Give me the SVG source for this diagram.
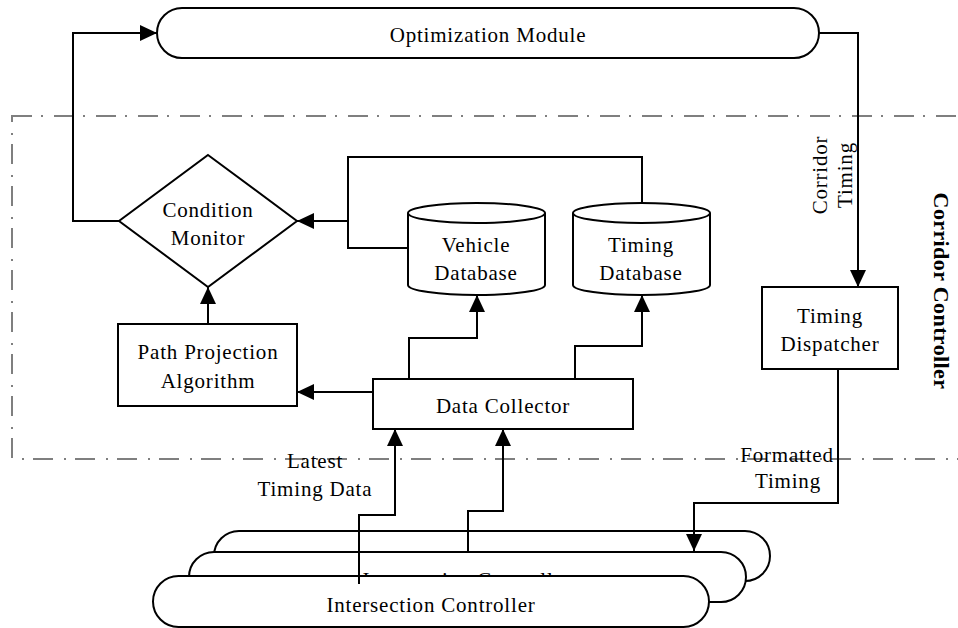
<svg xmlns="http://www.w3.org/2000/svg" width="958" height="628" viewBox="0 0 958 628">
<style>
.s{fill:#fff;stroke:#000;stroke-width:2}
.t{font-family:"Liberation Serif","Times New Roman",serif;font-size:21px;letter-spacing:0.8px;fill:#000;text-anchor:middle}
.c{fill:none;stroke:#000;stroke-width:2}
.b{fill:none;stroke:#7f7f7f;stroke-width:2;stroke-dasharray:20 9 2 11}
</style>
<defs>
<marker id="a" markerUnits="userSpaceOnUse" viewBox="0 0 17 16" refX="17" refY="8" markerWidth="17" markerHeight="16" orient="auto">
<path d="M0,0 L17,8 L0,16 z" fill="#000"/>
</marker>
</defs>
<rect class="b" x="12" y="116" width="962" height="343"/>
<g id="optimization">
<rect class="s" x="157" y="8" width="662" height="50" rx="25" ry="25"/>
<text class="t" x="488" y="42">Optimization Module</text>
</g>
<g id="condition">
<polygon class="s" points="208,155 297,221 208,287 119,221"/>
<text class="t" x="208" y="217">Condition</text>
<text class="t" x="208" y="245">Monitor</text>
</g>
<g id="vehicledb">
<path class="s" d="M408,213 A68.5,10 0 0 1 545,213 L545,285 A68.5,10 0 0 1 408,285 Z"/>
<path class="c" d="M408,213 A68.5,10 0 0 0 545,213"/>
<text class="t" x="476" y="252">Vehicle</text>
<text class="t" x="476" y="280">Database</text>
</g>
<g id="timingdb">
<path class="s" d="M573,213 A68.5,10 0 0 1 710,213 L710,285 A68.5,10 0 0 1 573,285 Z"/>
<path class="c" d="M573,213 A68.5,10 0 0 0 710,213"/>
<text class="t" x="641" y="252">Timing</text>
<text class="t" x="641" y="280">Database</text>
</g>
<g id="pathprojection">
<rect class="s" x="118" y="324" width="179" height="82"/>
<text class="t" x="208" y="359">Path Projection</text>
<text class="t" x="208" y="388">Algorithm</text>
</g>
<g id="datacollector">
<rect class="s" x="373" y="379" width="260" height="50"/>
<text class="t" x="503" y="413">Data Collector</text>
</g>
<g id="dispatcher">
<rect class="s" x="762" y="287" width="136" height="82"/>
<text class="t" x="830" y="323">Timing</text>
<text class="t" x="830" y="351">Dispatcher</text>
</g>
<g id="intersection3">
<rect class="s" x="214" y="531" width="556" height="50" rx="25" ry="25"/>
</g>
<g id="intersection2">
<rect class="s" x="189" y="552" width="557" height="50" rx="25" ry="25"/>
<text class="t" x="467" y="587">Intersection Controller</text>
</g>
<g id="intersection1">
<rect class="s" x="153" y="576" width="556" height="51" rx="25.5" ry="25.5"/>
<text class="t" x="431" y="612">Intersection Controller</text>
</g>
<g id="connectors">
<path class="c" d="M119,221 H73 V33 H157" marker-end="url(#a)"/>
<path class="c" d="M819,33 H858 V287" marker-end="url(#a)"/>
<path class="c" d="M408,248 H348 V157 H642 V203"/>
<path class="c" d="M348,221 H297" marker-end="url(#a)"/>
<path class="c" d="M208,324 V287" marker-end="url(#a)"/>
<path class="c" d="M373,392 H297" marker-end="url(#a)"/>
<path class="c" d="M409,379 V338 H477 V295" marker-end="url(#a)"/>
<path class="c" d="M575,379 V346 H642 V295" marker-end="url(#a)"/>
<path class="c" d="M359,584 V515 H395 V429" marker-end="url(#a)"/>
<path class="c" d="M468,552 V511 H503 V429" marker-end="url(#a)"/>
<path class="c" d="M838,369 V503 H694 V551" marker-end="url(#a)"/>
</g>
<g id="labels">
<text class="t" x="315" y="468">Latest</text>
<text class="t" x="315" y="496">Timing Data</text>
<text class="t" x="787" y="462">Formatted</text>
<text class="t" x="788" y="488">Timing</text>
<text class="t" transform="translate(827,175) rotate(-90)" x="0" y="0">Corridor</text>
<text class="t" transform="translate(852,175) rotate(-90)" x="0" y="0">Timing</text>
<text class="t" transform="translate(934,291) rotate(90)" x="0" y="0" style="font-weight:bold;font-size:22px;letter-spacing:0.4px">Corridor Controller</text>
</g>
</svg>
